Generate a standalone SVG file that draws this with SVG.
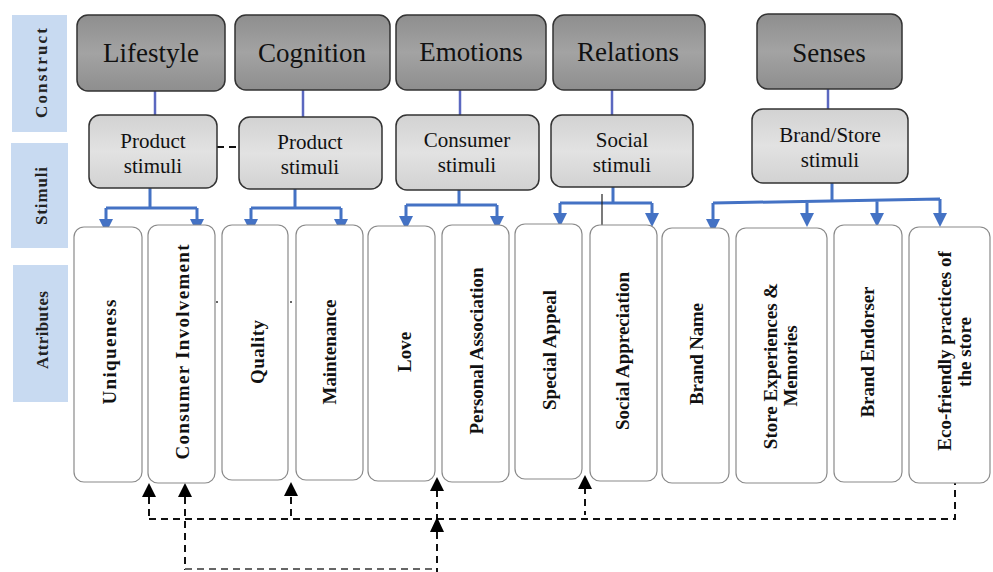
<svg xmlns="http://www.w3.org/2000/svg" width="993" height="572" viewBox="0 0 993 572">
<defs>
<linearGradient id="gC" x1="0" y1="0" x2="0" y2="1"><stop offset="0" stop-color="#8e8e8e"/><stop offset="0.5" stop-color="#a3a3a3"/><stop offset="1" stop-color="#8e8e8e"/></linearGradient>
<linearGradient id="gS" x1="0" y1="0" x2="0" y2="1"><stop offset="0" stop-color="#d2d2d2"/><stop offset="0.5" stop-color="#e2e2e2"/><stop offset="1" stop-color="#d2d2d2"/></linearGradient>
</defs>
<style>
text{font-family:"Liberation Serif","Times New Roman",serif}
.lab{fill:#c8daf1;stroke:none}
.labt{font-weight:bold;font-size:17px;fill:#222;text-anchor:middle}
.con{fill:url(#gC);stroke:#333;stroke-width:1.5}
.cont{font-size:27px;fill:#111;text-anchor:middle}
.sti{fill:url(#gS);stroke:#333;stroke-width:1.5}
.stit{font-size:21px;fill:#111;text-anchor:middle}
.att{fill:#fff;stroke:#8a8a8a;stroke-width:1.2}
.attt{font-weight:bold;font-size:19px;fill:#111;text-anchor:middle}
.cl{stroke:#5b68c0;stroke-width:2.5;fill:none}
.bl{stroke:#4472c4;stroke-width:3;fill:none}
.ba{fill:#4472c4}
.dl{stroke:#111;stroke-width:2;stroke-dasharray:7 5;fill:none}
.dg{stroke:#666;stroke-width:2;stroke-dasharray:7 5;fill:none}
.ka{fill:#000}
</style>
<rect width="993" height="572" fill="#fff"/>

<g id="labels">
<rect class="lab" x="12" y="15" width="55" height="117"/>
<text class="labt" transform="translate(47,73) rotate(-90)" textLength="90" lengthAdjust="spacing">Construct</text>
<rect class="lab" x="11" y="143" width="57" height="105"/>
<text class="labt" transform="translate(47,196) rotate(-90)" textLength="58" lengthAdjust="spacing">Stimuli</text>
<rect class="lab" x="13" y="265" width="55" height="137"/>
<text class="labt" transform="translate(48,330) rotate(-90)" textLength="78" lengthAdjust="spacing">Attributes</text>
</g>

<g id="connectors">
<line class="cl" x1="155" y1="91" x2="155" y2="115"/>
<line class="cl" x1="303" y1="90" x2="303" y2="117"/>
<line class="cl" x1="460" y1="90" x2="460" y2="115"/>
<line class="cl" x1="612" y1="90" x2="612" y2="115"/>
<line class="cl" x1="828" y1="89" x2="828" y2="109"/>
<line class="dl" x1="217" y1="147" x2="239" y2="147" stroke-dasharray="6 6"/>
<path class="bl" d="M150 188 V208 M106 208 H197 M106 208 V220 M197 208 V220"/>
<polygon class="ba" points="99,219 113,219 106,233"/><polygon class="ba" points="190,219 204,219 197,233"/>
<path class="bl" d="M295 189 V208 M251 208 H341 M251 208 V220 M341 208 V220"/>
<polygon class="ba" points="244,219 258,219 251,233"/><polygon class="ba" points="334,219 348,219 341,233"/>
<path class="bl" d="M459 190 V205 M406 205 H497 M406 205 V217 M497 205 V217"/>
<polygon class="ba" points="399,216 413,216 406,230"/><polygon class="ba" points="490,216 504,216 497,230"/>
<path class="bl" d="M613 187 V203 M560 203 H652 M560 203 V214 M652 203 V214"/>
<polygon class="ba" points="553,213 567,213 560,227"/><polygon class="ba" points="645,213 659,213 652,227"/>
<line x1="602" y1="194" x2="602" y2="225" stroke="#222" stroke-width="1.2"/>
<path class="bl" d="M832 183 V201 M713 203 L940 199 M713 203 V220 M807 201 V214 M877 200 V214 M940 199 V214"/>
<polygon class="ba" points="706,219 720,219 713,233"/><polygon class="ba" points="800,213 814,213 807,227"/><polygon class="ba" points="870,213 884,213 877,227"/><polygon class="ba" points="933,213 947,213 940,227"/>

<path class="dl" d="M149 519 H955 V483"/>
<path class="dl" d="M149 497 V519"/>
<path class="dl" d="M185 497 V570"/>
<path class="dl" d="M291 497 V519"/>
<path class="dl" d="M437 490 V519 M437 532 V572"/>
<path class="dl" d="M585 487 V515"/>
<path class="dg" d="M185 569 H437"/>
<polygon class="ka" points="142,497 156,497 149,483"/>
<polygon class="ka" points="178,497 192,497 185,483"/>
<polygon class="ka" points="284,496 298,496 291,482"/>
<polygon class="ka" points="430,491 444,491 437,477"/>
<polygon class="ka" points="430,532 444,532 437,517"/>
<polygon class="ka" points="578,489 592,489 585,475"/>
</g>

<g id="n-lifestyle"><rect class="con" x="77" y="15" width="148" height="76" rx="11"/><text class="cont" x="151" y="62">Lifestyle</text></g>
<g id="n-cognition"><rect class="con" x="235" y="15" width="155" height="75" rx="11"/><text class="cont" x="312" y="62">Cognition</text></g>
<g id="n-emotions"><rect class="con" x="396" y="15" width="150" height="75" rx="11"/><text class="cont" x="471" y="61">Emotions</text></g>
<g id="n-relations"><rect class="con" x="553" y="15" width="152" height="75" rx="11"/><text class="cont" x="628" y="61">Relations</text></g>
<g id="n-senses"><rect class="con" x="757" y="14" width="145" height="75" rx="11"/><text class="cont" x="829" y="62" font-size="28">Senses</text></g>

<g id="s-product1"><rect class="sti" x="89" y="115" width="128" height="73" rx="11"/><text class="stit" x="153" y="148">Product</text><text class="stit" x="153" y="173">stimuli</text></g>
<g id="s-product2"><rect class="sti" x="239" y="117" width="143" height="72" rx="11"/><text class="stit" x="310" y="149">Product</text><text class="stit" x="310" y="174">stimuli</text></g>
<g id="s-consumer"><rect class="sti" x="396" y="115" width="143" height="75" rx="11"/><text class="stit" x="467" y="147">Consumer</text><text class="stit" x="467" y="172">stimuli</text></g>
<g id="s-social"><rect class="sti" x="551" y="115" width="142" height="72" rx="11"/><text class="stit" x="622" y="147">Social</text><text class="stit" x="622" y="172">stimuli</text></g>
<g id="s-brandstore"><rect class="sti" x="752" y="109" width="156" height="74" rx="11"/><text class="stit" x="830" y="142">Brand/Store</text><text class="stit" x="830" y="167">stimuli</text></g>

<g id="a-uniqueness"><rect class="att" x="74" y="227" width="68" height="255" rx="10"/><text class="attt" transform="translate(116,352) rotate(-90)" textLength="105" lengthAdjust="spacing">Uniqueness</text></g>
<g id="a-involvement"><rect class="att" x="148" y="225" width="67" height="258" rx="10"/><text class="attt" transform="translate(189,352) rotate(-90)" textLength="215" lengthAdjust="spacing">Consumer Involvement</text></g>
<g id="a-quality"><rect class="att" x="222" y="225" width="66" height="255" rx="10"/><text class="attt" transform="translate(264,352) rotate(-90)" textLength="64" lengthAdjust="spacing">Quality</text></g>
<g id="a-maintenance"><rect class="att" x="296" y="225" width="67" height="255" rx="10"/><text class="attt" transform="translate(336,352) rotate(-90)" textLength="105" lengthAdjust="spacing">Maintenance</text></g>
<g id="a-love"><rect class="att" x="368" y="226" width="67" height="255" rx="10"/><text class="attt" transform="translate(411,352) rotate(-90)">Love</text></g>
<g id="a-personal"><rect class="att" x="442" y="225" width="67" height="257" rx="10"/><text class="attt" transform="translate(483,351) rotate(-90)" textLength="167" lengthAdjust="spacing">Personal Association</text></g>
<g id="a-special"><rect class="att" x="515" y="224" width="67" height="255" rx="10"/><text class="attt" transform="translate(556,350) rotate(-90)" textLength="120" lengthAdjust="spacing">Special Appeal</text></g>
<g id="a-social"><rect class="att" x="590" y="225" width="67" height="256" rx="10"/><text class="attt" transform="translate(629,351) rotate(-90)" textLength="158" lengthAdjust="spacing">Social Appreciation</text></g>
<g id="a-brandname"><rect class="att" x="662" y="228" width="67" height="255" rx="10"/><text class="attt" transform="translate(703,354) rotate(-90)" textLength="102" lengthAdjust="spacing">Brand Name</text></g>
<g id="a-store"><rect class="att" x="736" y="228" width="91" height="255" rx="10"/><text class="attt" font-size="17" transform="translate(777,366) rotate(-90)">Store Experiences &amp;</text><text class="attt" font-size="17" transform="translate(797,366) rotate(-90)">Memories</text></g>
<g id="a-endorser"><rect class="att" x="834" y="225" width="68" height="257" rx="10"/><text class="attt" transform="translate(874,352) rotate(-90)" textLength="131" lengthAdjust="spacing">Brand Endorser</text></g>
<g id="a-eco"><rect class="att" x="909" y="227" width="81" height="256" rx="10"/><text class="attt" font-size="18" transform="translate(951,351) rotate(-90)">Eco-friendly practices of</text><text class="attt" font-size="18" transform="translate(971,352) rotate(-90)">the store</text></g>

<g id="marks"><circle cx="217" cy="302" r="1" fill="#333"/><circle cx="291" cy="302" r="1" fill="#333"/></g>
</svg>
